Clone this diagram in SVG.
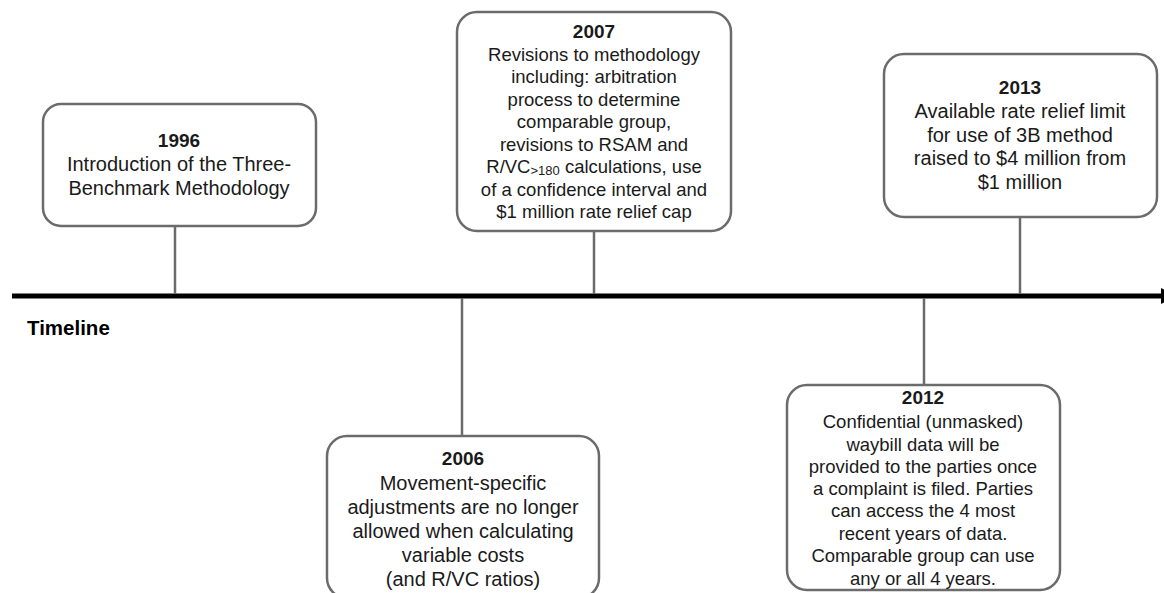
<svg xmlns="http://www.w3.org/2000/svg" width="1164" height="593" viewBox="0 0 1164 593">
<style>
.box{fill:#fff;stroke:#6b6b6b;stroke-width:2.5}
.t{font-family:"Liberation Sans",Arial,sans-serif;font-size:20px;fill:#1a1a1a;text-anchor:middle}
.s{font-size:18.5px}
.h{font-weight:bold;font-size:19px}
.ln{stroke:#6b6b6b;stroke-width:2.5}
</style>
<rect width="1164" height="593" fill="#fff"/>
<g id="connectors">
<line x1="12" y1="296" x2="1162" y2="296" stroke="#000" stroke-width="5"/>
<polygon points="1161,288 1178,296 1161,304" fill="#000"/>
<line class="ln" x1="175" y1="226" x2="175" y2="294"/>
<line class="ln" x1="594" y1="231" x2="594" y2="294"/>
<line class="ln" x1="1020" y1="217" x2="1020" y2="294"/>
<line class="ln" x1="462" y1="298" x2="462" y2="436"/>
<line class="ln" x1="924" y1="298" x2="924" y2="385"/>
</g>
<g id="label-timeline"><text x="27" y="335" font-family="Liberation Sans,Arial,sans-serif" font-weight="bold" font-size="20.5" fill="#000">Timeline</text></g>
<g id="n1996">
<rect class="box" x="43" y="104" width="273" height="122" rx="18"/>
<text class="t"><tspan class="h" x="179" y="147">1996</tspan><tspan x="179" y="171">Introduction of the Three-</tspan><tspan x="179" y="195">Benchmark Methodology</tspan></text>
</g>
<g id="n2007">
<rect class="box" x="457" y="12" width="274" height="219" rx="20"/>
<text class="t s"><tspan class="h" x="594" y="38">2007</tspan><tspan x="594" y="61">Revisions to methodology</tspan><tspan x="594" y="83">including: arbitration</tspan><tspan x="594" y="106">process to determine</tspan><tspan x="594" y="128">comparable group,</tspan><tspan x="594" y="151">revisions to RSAM and</tspan><tspan x="594" y="173">R/VC<tspan font-size="13" dy="2">&gt;180</tspan><tspan dy="-2"> calculations, use</tspan></tspan><tspan x="594" y="196">of a confidence interval and</tspan><tspan x="594" y="218">$1 million rate relief cap</tspan></text>
</g>
<g id="n2013">
<rect class="box" x="884" y="54" width="273" height="163" rx="20"/>
<text class="t"><tspan class="h" x="1020" y="94">2013</tspan><tspan x="1020" y="118">Available rate relief limit</tspan><tspan x="1020" y="142">for use of 3B method</tspan><tspan x="1020" y="165">raised to $4 million from</tspan><tspan x="1020" y="189">$1 million</tspan></text>
</g>
<g id="n2006">
<rect class="box" x="327" y="436" width="272" height="162" rx="20"/>
<text class="t"><tspan class="h" x="463" y="465">2006</tspan><tspan x="463" y="490">Movement-specific</tspan><tspan x="463" y="514">adjustments are no longer</tspan><tspan x="463" y="538">allowed when calculating</tspan><tspan x="463" y="562">variable costs</tspan><tspan x="463" y="586">(and R/VC ratios)</tspan></text>
</g>
<g id="n2012">
<rect class="box" x="787" y="385" width="273" height="205" rx="20"/>
<text class="t s"><tspan class="h" x="923" y="404">2012</tspan><tspan x="923" y="428">Confidential (unmasked)</tspan><tspan x="923" y="451">waybill data will be</tspan><tspan x="923" y="473">provided to the parties once</tspan><tspan x="923" y="495">a complaint is filed. Parties</tspan><tspan x="923" y="517">can access the 4 most</tspan><tspan x="923" y="540">recent years of data.</tspan><tspan x="923" y="562">Comparable group can use</tspan><tspan x="923" y="585">any or all 4 years.</tspan></text>
</g>
</svg>
